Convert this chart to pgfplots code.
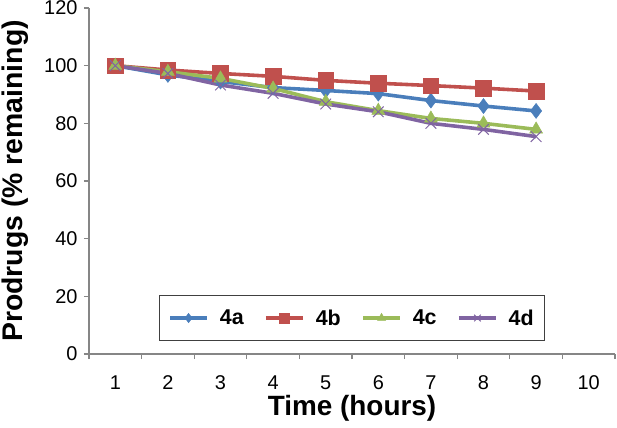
\documentclass[border=0pt]{standalone}
\usepackage{pgfplots}
\pgfplotsset{compat=1.18}
\usepackage{fontspec}
\setmainfont{Liberation Sans}
\definecolor{cA}{RGB}{74,126,187}
\definecolor{cB}{RGB}{192,80,77}
\definecolor{cC}{RGB}{155,187,89}
\definecolor{cD}{RGB}{128,100,162}
\definecolor{axgray}{RGB}{134,134,134}
\begin{document}
\begin{tikzpicture}
\begin{axis}[
  name=ax,
  scale only axis,
  width=526bp, height=346bp,
  xmin=0.5, xmax=10.5, ymin=0, ymax=120,
  axis x line=bottom, axis y line=left,
  axis line style={-, axgray, line width=1.2pt},
  xtick={1,...,10},
  minor xtick={0.5,1.5,...,10.5},
  major x tick style={draw=none},
  minor x tick style={axgray, line width=1.2pt},
  minor tick length=5bp,
  ytick={0,20,...,120},
  y tick style={axgray, line width=1.2pt},
  major tick length=5bp,
  tick align=outside,
  /pgf/number format/assume math mode=true,
  tick label style={font=\fontsize{20}{24}\selectfont},
  xticklabel style={inner sep=0pt, yshift=-16.5bp},
  yticklabel style={xshift=-3bp},
  xlabel={Time (hours)},
  ylabel={Prodrugs (\% remaining)},
  xlabel style={font=\bfseries\fontsize{28}{32}\selectfont, inner sep=0pt, at={(axis description cs:0.5,0)}, anchor=base, yshift=-61bp},
  ylabel style={font=\bfseries\fontsize{28.5}{32}\selectfont, at={([xshift=-66bp]axis description cs:0,0.5)}, anchor=base},
  legend columns=4,
  legend style={at={(0.5,0.104)}, anchor=center, draw=black!75, line width=1.2pt,
    font=\bfseries\fontsize{21.5}{26}\selectfont, inner xsep=9bp, inner ysep=12bp,
    /tikz/every odd column/.append style={column sep=9bp},
    /tikz/every even column/.append style={column sep=18.5bp}},
  legend image code/.code={\draw[mark repeat=2,mark phase=2, every mark/.append style={scale=0.62}] plot coordinates {(0bp,0bp) (18.5bp,0bp) (37bp,0bp)};},
  every axis plot/.append style={line width=3.6pt},
]
\addplot[cA, mark=diamond*, mark size=7.5bp, mark options={solid, fill=cA, line width=0.5pt}] coordinates {
(1,100) (2,96.8) (3,94.5) (4,92.4) (5,91.4) (6,90.3) (7,87.9) (8,86.0) (9,84.3)};
\addlegendentry{4a}
\addplot[cB, mark=square*, mark size=7.8bp, mark options={solid, fill=cB, line width=0.5pt}] coordinates {
(1,100) (2,98.5) (3,97.3) (4,96.3) (5,94.9) (6,93.9) (7,93.1) (8,92.2) (9,91.2)};
\addlegendentry{4b}
\addplot[cC, mark=triangle*, mark size=7.5bp, mark options={solid, fill=cC, line width=0.5pt}] coordinates {
(1,100) (2,97.9) (3,95.6) (4,92.1) (5,87.5) (6,84.4) (7,81.7) (8,80.0) (9,77.9)};
\addlegendentry{4c}
\addplot[cD, mark=x, mark size=7.5bp, mark options={solid, line width=1pt}] coordinates {
(1,100) (2,97.3) (3,93.3) (4,90.4) (5,86.7) (6,84.0) (7,80.0) (8,77.9) (9,75.4)};
\addlegendentry{4d}
\end{axis}
\pgfresetboundingbox
\path ([xshift=-89bp,yshift=-74bp]ax.south west) rectangle ([xshift=2bp,yshift=8bp]ax.north east);
\end{tikzpicture}
\end{document}
